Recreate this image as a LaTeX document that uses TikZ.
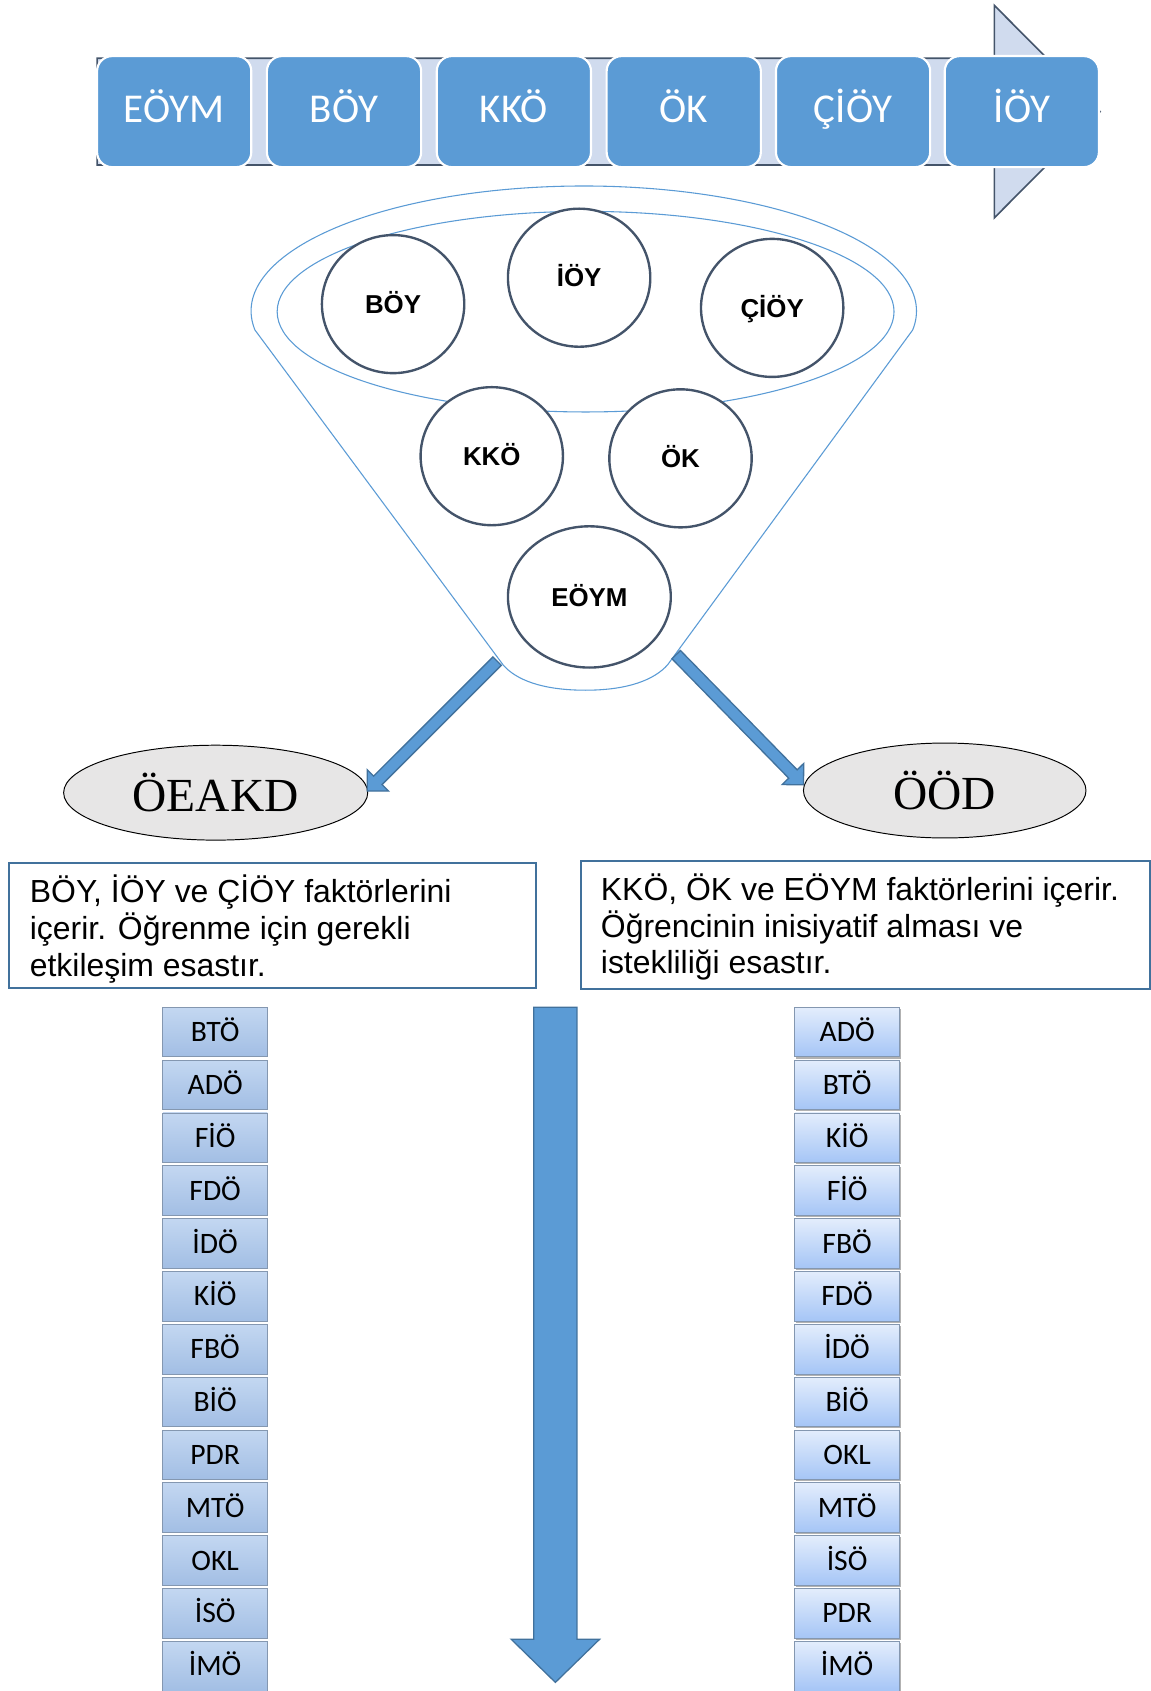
\documentclass[tikz,border=0pt]{standalone}
\usepackage{fontspec}
\usetikzlibrary{calc,shapes.geometric,shadows}
\newfontfamily\fcal{Carlito}
\newfontfamily\fsans{Liberation Sans}
\newfontfamily\fserif{Liberation Serif}
\definecolor{accent}{HTML}{5B9BD5}
\definecolor{accentdark}{HTML}{41719C}
\definecolor{slate}{HTML}{44546A}
\definecolor{barfill}{HTML}{D0DBEE}
\definecolor{ovalgray}{HTML}{E7E6E6}
\definecolor{listedge}{HTML}{8497B0}
\definecolor{ltop}{HTML}{C3D7F1}
\definecolor{lbot}{HTML}{A2BEE4}
\definecolor{rtop}{HTML}{E3EDFC}
\definecolor{rbot}{HTML}{A5C5F6}

% block arrow from #1 to tip #2: shaft half width #3, head half width #4, head length #5
\newcommand\blockarrow[5]{%
  \coordinate (ba-base) at ($(#2)!#5!(#1)$);
  \draw[blockstyle]
    ($(#1)!#3!90:(#2)$) -- ($(ba-base)!#3!-90:(#1)$) -- ($(ba-base)!#4!-90:(#1)$)
    -- (#2) -- ($(ba-base)!#4!90:(#1)$) -- ($(ba-base)!#3!90:(#1)$)
    -- ($(#1)!#3!-90:(#2)$) -- cycle;}

\tikzset{
  stage/.style={draw=white, line width=2pt, fill=accent, rounded corners=14pt,
    minimum width=143pt, minimum height=103pt, inner sep=0pt, text=white,
    font=\fcal\fontsize{38}{42}\selectfont, text height=20.5pt, text depth=0pt},
  barstyle/.style={draw=slate, line width=1.5pt, fill=barfill, line join=miter},
  funnel/.style={draw=accent, line width=1pt},
  factor/.style={ellipse, draw=slate, line width=2.2pt, fill=white,
    minimum width=132pt, minimum height=128pt, inner sep=0pt,
    font=\fsans\bfseries\fontsize{24}{27}\selectfont, text height=17.2pt, text depth=0pt},
  oval/.style={ellipse, draw=black, line width=0.9pt, fill=ovalgray, inner sep=0pt,
    minimum height=88pt, font=\fserif\fontsize{44}{48}\selectfont,
    text height=35pt, text depth=0pt},
  blockstyle/.style={fill=accent, draw=accentdark, line width=1.2pt, line join=miter},
  infobox/.style={draw=accentdark, line width=2pt, inner sep=0pt, anchor=north west},
  infotext/.style={font=\fsans\fontsize{29.6}{34}\selectfont, align=left, inner sep=0pt,
    anchor=base west},
  listitem/.style={rectangle, draw=listedge, line width=0.8pt, minimum width=97pt,
    minimum height=46pt, inner sep=0pt, font=\fcal\fontsize{27.5}{30}\selectfont,
    text height=17.7pt, text depth=0pt},
  leftitem/.style={listitem, top color=ltop, bottom color=lbot},
  rightitem/.style={listitem, top color=rtop, bottom color=rbot,
    drop shadow={shadow xshift=1.5pt, shadow yshift=-1.5pt, fill=black, opacity=0.3}},
}

\begin{document}
\begin{tikzpicture}[x=1pt, y=-1pt]
\useasboundingbox (0,0) rectangle (1067,1568);

% process bar with arrow head
\draw[barstyle] (90,54) -- (922,54) -- (922,5) -- (1020,103.5) -- (922,202)
  -- (922,153) -- (90,153) -- cycle;
\node[stage] (s1) at (161.5,103.5) {EÖYM};
\node[stage] (s2) at (319,103.5) {BÖY};
\node[stage] (s3) at (476.5,103.5) {KKÖ};
\node[stage] (s4) at (634,103.5) {ÖK};
\node[stage] (s5) at (791,103.5) {ÇİÖY};
\node[stage] (s6) at (947.5,103.5) {İÖY};

% funnel: upper rim, straight sides and a rounded spout
\draw[funnel] (236.4,306) arc[start angle=171.3, end angle=368.7, x radius=308.5, y radius=116]
  -- (619,616.5) .. controls (607,630) and (583,640) .. (542.7,640)
  .. controls (502,640) and (478,630) .. (466.5,616.5) -- cycle;
\draw[funnel] (543,289) ellipse[x radius=286, y radius=93];

% factors inside the funnel
\node[factor] (boy) at (364.5,282) {BÖY};
\node[factor] (ioy) at (537,257.5) {İÖY};
\node[factor] (cioy) at (716,285.5) {ÇİÖY};
\node[factor] (kko) at (456,423) {KKÖ};
\node[factor] (ok) at (631,425) {ÖK};
\node[factor, minimum width=151pt, minimum height=131pt] (eoym) at (546.5,553.5) {EÖYM};

% the two outcomes
\node[oval, minimum width=282pt] (oeakd) at (200,735) {ÖEAKD};
\node[oval, minimum width=262pt] (ood) at (876,733) {ÖÖD};

\coordinate (fl) at (461,613);
\coordinate (fr) at (627,607);
\coordinate (tl) at ($(oeakd.east)+(-1,-1.5)$);
\coordinate (tr) at ($(ood.west)+(0.5,-5.3)$);
\blockarrow{fl}{tl}{5.5pt}{14pt}{14pt}
\blockarrow{fr}{tr}{5.5pt}{14pt}{14pt}

% descriptions
\node[infobox, minimum width=489pt, minimum height=116pt] (lbox) at (7,799.5) {};
\node[infotext] (ltext) at (27.5,905) {BÖY, İÖY ve ÇİÖY faktörlerini\\içerir. Öğrenme için gerekli\\etkileşim esastır.};
\node[infobox, minimum width=527pt, minimum height=119pt] (rbox) at (538,797) {};
\node[infotext] (rtext) at (557,903) {KKÖ, ÖK ve EÖYM faktörlerini içerir.\\Öğrencinin inisiyatif alması ve\\istekliliği esastır.};

% ordering arrow
\coordinate (vtop) at (515,934);
\coordinate (vtip) at (515,1560);
\blockarrow{vtop}{vtip}{20pt}{41pt}{40pt}

% ranked lists
\foreach \lbl [count=\i from 0] in {BTÖ,ADÖ,FİÖ,FDÖ,İDÖ,KİÖ,FBÖ,BİÖ,PDR,MTÖ,OKL,İSÖ,İMÖ}
  \node[leftitem] (l\i) at (199.5,957+49*\i) {\lbl};
\foreach \lbl [count=\i from 0] in {ADÖ,BTÖ,KİÖ,FİÖ,FBÖ,FDÖ,İDÖ,BİÖ,OKL,MTÖ,İSÖ,PDR,İMÖ}
  \node[rightitem] (r\i) at (785.5,957+49*\i) {\lbl};
\end{tikzpicture}
\end{document}
